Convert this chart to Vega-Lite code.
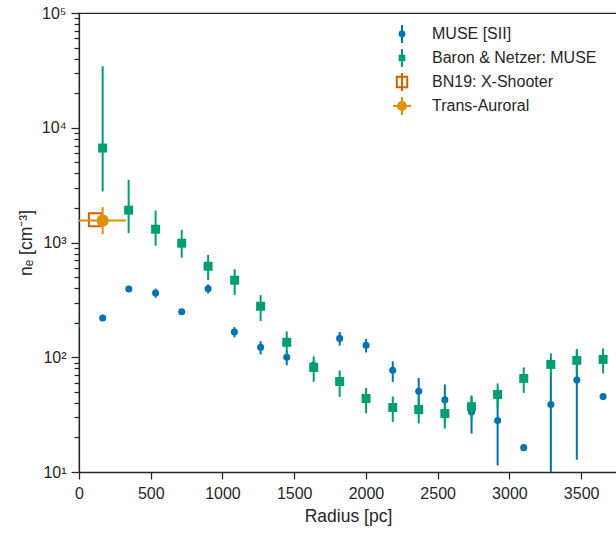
{
  "$schema": "https://vega.github.io/schema/vega-lite/v6.json",
  "autosize": {"type": "none"},
  "padding": {"left": 79, "top": 13, "right": 0, "bottom": 64},
  "width": 538,
  "height": 459,
  "background": "white",
  "datasets": {
    "muse": [
      {"R": -18, "v": 191, "lo": 182, "hi": 200},
      {"R": 165, "v": 220, "lo": 208, "hi": 232},
      {"R": 347, "v": 393, "lo": 378, "hi": 408},
      {"R": 534, "v": 363, "lo": 330, "hi": 396},
      {"R": 716, "v": 249, "lo": 239, "hi": 259},
      {"R": 900, "v": 396, "lo": 360, "hi": 432},
      {"R": 1083, "v": 166, "lo": 149, "hi": 183},
      {"R": 1266, "v": 122, "lo": 106, "hi": 138},
      {"R": 1448, "v": 100, "lo": 85, "hi": 115},
      {"R": 1634, "v": 85, "lo": 78, "hi": 92},
      {"R": 1817, "v": 146, "lo": 126, "hi": 166},
      {"R": 2001, "v": 127, "lo": 110, "hi": 144},
      {"R": 2187, "v": 77, "lo": 61, "hi": 92},
      {"R": 2368, "v": 50.6, "lo": 35, "hi": 66},
      {"R": 2550, "v": 42.5, "lo": 27, "hi": 58},
      {"R": 2736, "v": 33.4, "lo": 21.6, "hi": 45.2},
      {"R": 2918, "v": 28.1, "lo": 11.4, "hi": 44.8},
      {"R": 3100, "v": 16.3, "lo": 16.3, "hi": 16.3},
      {"R": 3289, "v": 38.8, "lo": 3.8, "hi": 73.8},
      {"R": 3470, "v": 63.2, "lo": 12.8, "hi": 113.6},
      {"R": 3653, "v": 45.4, "lo": 45.4, "hi": 45.4}
    ],
    "bn": [
      {"R": 165, "v": 6655, "lo": 2782, "hi": 34330},
      {"R": 346, "v": 1914, "lo": 1206, "hi": 3520},
      {"R": 534, "v": 1306, "lo": 939, "hi": 1899},
      {"R": 716, "v": 986, "lo": 738, "hi": 1288},
      {"R": 900, "v": 621, "lo": 472, "hi": 779},
      {"R": 1085, "v": 469, "lo": 349, "hi": 585},
      {"R": 1266, "v": 278, "lo": 207, "hi": 347},
      {"R": 1448, "v": 135, "lo": 104, "hi": 168},
      {"R": 1636, "v": 81.5, "lo": 61.1, "hi": 101.7},
      {"R": 1817, "v": 61.5, "lo": 45.2, "hi": 76.8},
      {"R": 2001, "v": 43.7, "lo": 32.5, "hi": 54.1},
      {"R": 2187, "v": 36.5, "lo": 27.3, "hi": 45.5},
      {"R": 2368, "v": 35.0, "lo": 26.5, "hi": 46.0},
      {"R": 2550, "v": 32.3, "lo": 23.9, "hi": 42.7},
      {"R": 2736, "v": 37.1, "lo": 28.3, "hi": 46.5},
      {"R": 2918, "v": 47.4, "lo": 36.0, "hi": 59.1},
      {"R": 3100, "v": 65.4, "lo": 48.9, "hi": 81.5},
      {"R": 3289, "v": 86.6, "lo": 67.1, "hi": 108},
      {"R": 3470, "v": 93.9, "lo": 71.3, "hi": 117.8},
      {"R": 3653, "v": 95.8, "lo": 72.3, "hi": 119.5}
    ],
    "xs": [{"R": 114, "v": 1580}],
    "ta": [{"R": 165, "v": 1553, "lo": 1181, "hi": 2033, "xlo": 0, "xhi": 328}],
    "leg": [
      {"series": "MUSE [SII]", "R": -2000, "v": 1000},
      {"series": "Baron & Netzer: MUSE", "R": -2000, "v": 1000},
      {"series": "BN19: X-Shooter", "R": -2000, "v": 1000},
      {"series": "Trans-Auroral", "R": -2000, "v": 1000}
    ]
  },
  "layer": [
    {
      "data": {"name": "muse"},
      "mark": {"type": "rule", "clip": true, "color": "#0173B2", "strokeWidth": 2},
      "encoding": {
        "x": {
          "field": "R", "type": "quantitative",
          "scale": {"domain": [0, 3750], "nice": false, "zero": false},
          "axis": {
            "title": "Radius [pc]",
            "format": "d",
            "values": [0, 500, 1000, 1500, 2000, 2500, 3000, 3500],
            "tickSize": 7,
            "labelPadding": 6,
            "titlePadding": 6,
            "labelFlush": false
          }
        },
        "y": {
          "field": "lo", "type": "quantitative",
          "scale": {"type": "log", "domain": [10, 100000], "nice": false},
          "axis": {
            "title": "nₑ [cm⁻³]",
            "values": [10, 20, 30, 40, 50, 60, 70, 80, 90, 100, 200, 300, 400, 500, 600, 700, 800, 900, 1000, 2000, 3000, 4000, 5000, 6000, 7000, 8000, 9000, 10000, 20000, 30000, 40000, 50000, 60000, 70000, 80000, 90000, 100000],
            "labelExpr": "datum.value == 10 ? '10¹' : datum.value == 100 ? '10²' : datum.value == 1000 ? '10³' : datum.value == 10000 ? '10⁴' : datum.value == 100000 ? '10⁵' : ''",
            "tickSize": {"condition": {"test": "indexof([10,100,1000,10000,100000], datum.value) >= 0", "value": 8}, "value": 5},
            "labelOverlap": false,
            "labelBound": false,
            "labelFlush": false,
            "labelFontSize": 16,
            "labelPadding": 5,
            "titlePadding": 6
          }
        },
        "y2": {"field": "hi"}
      }
    },
    {
      "data": {"name": "muse"},
      "mark": {"type": "point", "clip": true, "shape": "circle", "filled": true, "opacity": 1, "color": "#0173B2", "size": 50},
      "encoding": {
        "x": {"field": "R", "type": "quantitative"},
        "y": {"field": "v", "type": "quantitative"}
      }
    },
    {
      "data": {"name": "bn"},
      "mark": {"type": "rule", "clip": true, "color": "#029E73", "strokeWidth": 2},
      "encoding": {
        "x": {"field": "R", "type": "quantitative"},
        "y": {"field": "lo", "type": "quantitative"},
        "y2": {"field": "hi"}
      }
    },
    {
      "data": {"name": "bn"},
      "mark": {"type": "point", "clip": true, "shape": "square", "filled": true, "opacity": 1, "color": "#029E73", "size": 81},
      "encoding": {
        "x": {"field": "R", "type": "quantitative"},
        "y": {"field": "v", "type": "quantitative"}
      }
    },
    {
      "data": {"name": "xs"},
      "mark": {"type": "point", "clip": true, "shape": "square", "filled": false, "fill": null, "opacity": 1, "stroke": "#D55E00", "strokeWidth": 2, "size": 169},
      "encoding": {
        "x": {"field": "R", "type": "quantitative"},
        "y": {"field": "v", "type": "quantitative"}
      }
    },
    {
      "data": {"name": "ta"},
      "mark": {"type": "rule", "clip": true, "color": "#DE8F05", "strokeWidth": 2},
      "encoding": {
        "x": {"field": "R", "type": "quantitative"},
        "y": {"field": "lo", "type": "quantitative"},
        "y2": {"field": "hi"}
      }
    },
    {
      "data": {"name": "ta"},
      "mark": {"type": "rule", "clip": true, "color": "#DE8F05", "strokeWidth": 2},
      "encoding": {
        "x": {"field": "xlo", "type": "quantitative"},
        "x2": {"field": "xhi"},
        "y": {"field": "v", "type": "quantitative"}
      }
    },
    {
      "data": {"name": "ta"},
      "mark": {"type": "point", "clip": true, "shape": "circle", "filled": true, "opacity": 1, "color": "#DE8F05", "size": 150},
      "encoding": {
        "x": {"field": "R", "type": "quantitative"},
        "y": {"field": "v", "type": "quantitative"}
      }
    },
    {
      "data": {"name": "leg"},
      "mark": {"type": "point", "clip": true, "opacity": 1, "strokeWidth": 2},
      "encoding": {
        "x": {"field": "R", "type": "quantitative"},
        "y": {"field": "v", "type": "quantitative"},
        "shape": {
          "field": "series", "type": "nominal",
          "scale": {
            "domain": ["MUSE [SII]", "Baron & Netzer: MUSE", "BN19: X-Shooter", "Trans-Auroral"],
            "range": [
              "M0,-1V1M-0.27,0A0.27,0.27 0 1,0 0.27,0A0.27,0.27 0 1,0 -0.27,0Z",
              "M0,-1V1M-0.26,-0.26H0.26V0.26H-0.26Z",
              "M0,-1V1M-0.58,-0.58H0.58V0.58H-0.58Z",
              "M0,-1V1M-1,0H1M-0.45,0A0.45,0.45 0 1,0 0.45,0A0.45,0.45 0 1,0 -0.45,0Z"
            ]
          },
          "legend": {
            "title": null,
            "orient": "none",
            "legendX": 313,
            "legendY": 11,
            "symbolSize": 324,
            "symbolStrokeWidth": 2,
            "symbolOpacity": 1,
            "labelFontSize": 16,
            "labelFont": "Liberation Sans",
            "labelColor": "#262626",
            "labelOffset": 20,
            "rowPadding": -2,
            "padding": 0,
            "labelLimit": 400
          }
        },
        "fill": {
          "field": "series", "type": "nominal",
          "scale": {
            "domain": ["MUSE [SII]", "Baron & Netzer: MUSE", "BN19: X-Shooter", "Trans-Auroral"],
            "range": ["#0173B2", "#029E73", "#ffffff", "#DE8F05"]
          },
          "legend": {"title": null}
        },
        "stroke": {
          "field": "series", "type": "nominal",
          "scale": {
            "domain": ["MUSE [SII]", "Baron & Netzer: MUSE", "BN19: X-Shooter", "Trans-Auroral"],
            "range": ["#0173B2", "#029E73", "#D55E00", "#DE8F05"]
          },
          "legend": {"title": null}
        }
      }
    }
  ],
  "config": {
    "font": "Liberation Sans",
    "view": {"stroke": "#262626", "strokeWidth": 1.25},
    "axis": {
      "grid": false,
      "domainColor": "#262626",
      "domainWidth": 1.25,
      "tickColor": "#262626",
      "tickWidth": 1.25,
      "labelColor": "#262626",
      "titleColor": "#262626",
      "labelFont": "Liberation Sans",
      "titleFont": "Liberation Sans",
      "labelFontSize": 16,
      "titleFontSize": 17.5,
      "titleFontWeight": "normal"
    }
  }
}
